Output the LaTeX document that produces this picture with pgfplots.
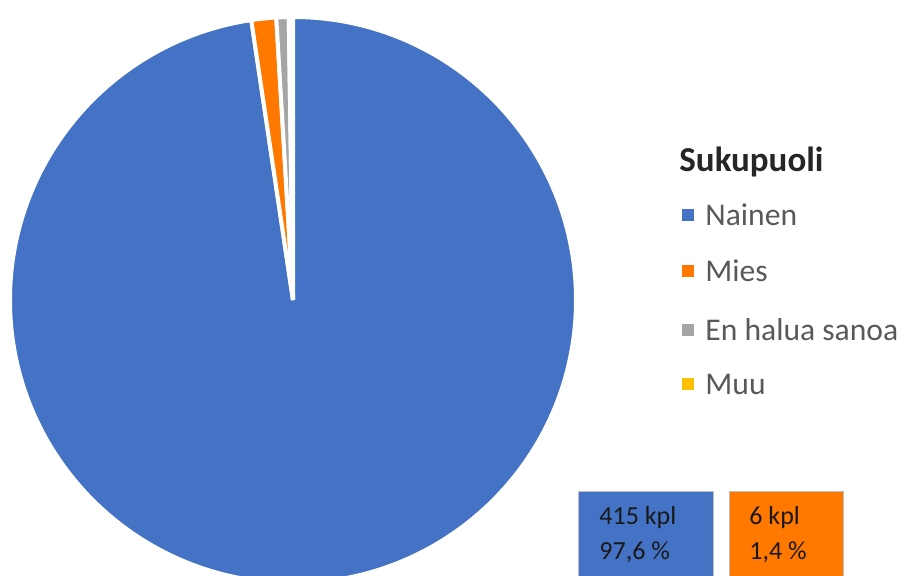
\documentclass[border=0pt]{standalone}
\usepackage{fontspec}
\setmainfont{Carlito}
\usepackage{pgfplots}
\usepackage{pgfplotstable}
\pgfplotsset{compat=1.18}

\definecolor{nainen}{RGB}{68,114,196}
\definecolor{mies}{RGB}{255,120,0}
\definecolor{enhalua}{RGB}{165,165,165}
\definecolor{muu}{RGB}{255,192,0}
\definecolor{legtext}{RGB}{89,89,89}

% Sukupuoli: Nainen, Mies, En halua sanoa, Muu
\pgfplotstableread{
value
415
6
3
1
}\datatable

\pgfplotstablegetelem{0}{value}\of\datatable \let\va\pgfplotsretval
\pgfplotstablegetelem{1}{value}\of\datatable \let\vb\pgfplotsretval
\pgfplotstablegetelem{2}{value}\of\datatable \let\vc\pgfplotsretval
\pgfplotstablegetelem{3}{value}\of\datatable \let\vd\pgfplotsretval
\pgfmathsetmacro\total{\va+\vb+\vc+\vd}
% pie starts at 12 o'clock and runs clockwise
\pgfmathsetmacro\aA{90-360*(\va/\total)}
\pgfmathsetmacro\aB{\aA-360*(\vb/\total)}
\pgfmathsetmacro\aC{\aB-360*(\vc/\total)}
\pgfmathsetmacro\aD{\aC-360*(\vd/\total)}

\def\R{141.5pt} % 283 units at 0.5pt each

\begin{document}
\begin{tikzpicture}
\begin{axis}[
    width=453.5pt, height=288pt, scale only axis,
    xmin=0, xmax=907, ymin=0, ymax=576,
    hide axis, clip=true,
]
    \addplot[draw=none] coordinates {(0,0) (907,576)};
    % slices
    \filldraw[fill=nainen, draw=white, line width=2pt]
        (axis cs:293,276) -- ++(90:\R) arc[start angle=90, end angle=\aA, radius=\R] -- cycle;
    \filldraw[fill=mies, draw=white, line width=2pt]
        (axis cs:293,276) -- ++(\aA:\R) arc[start angle=\aA, end angle=\aB, radius=\R] -- cycle;
    \filldraw[fill=enhalua, draw=white, line width=2pt]
        (axis cs:293,276) -- ++(\aB:\R) arc[start angle=\aB, end angle=\aC, radius=\R] -- cycle;
    \filldraw[fill=muu, draw=white, line width=2pt]
        (axis cs:293,276) -- ++(\aC:\R) arc[start angle=\aC, end angle=\aD, radius=\R] -- cycle;

    % legend
    \node[anchor=west, inner sep=0pt, font=\fontsize{17.5}{20}\selectfont\bfseries, text=black!85]
        at (axis cs:679,414) {Sukupuoli};
    \fill[nainen] (axis cs:682,355) rectangle (axis cs:694,367);
    \fill[mies] (axis cs:682,299) rectangle (axis cs:694,311);
    \fill[enhalua] (axis cs:682,240) rectangle (axis cs:694,252);
    \fill[muu] (axis cs:682,186) rectangle (axis cs:694,198);
    \begin{scope}[every node/.style={anchor=west, inner sep=0pt, text=legtext,
        font=\fontsize{15.8}{18}\selectfont}]
    \node at (axis cs:705,361) {Nainen};
    \node at (axis cs:705,305) {Mies};
    \node at (axis cs:705,246) {En halua sanoa};
    \node at (axis cs:705,192) {Muu};
    \end{scope}

    % data labels
    \filldraw[fill=nainen, draw=black!25, line width=0.5pt] (axis cs:578,84) rectangle (axis cs:713,-40);
    \filldraw[fill=mies, draw=black!25, line width=0.5pt] (axis cs:729,84) rectangle (axis cs:843,-40);
    \begin{scope}[every node/.style={anchor=west, inner sep=0pt, text=black!90,
        font=\fontsize{13}{15}\selectfont}]
    \node at (axis cs:599,58) {415 kpl};
    \node at (axis cs:599,24) {97,6 \%};
    \node at (axis cs:749,58) {6 kpl};
    \node at (axis cs:749,24) {1,4 \%};
    \end{scope}
\end{axis}
\end{tikzpicture}
\end{document}
